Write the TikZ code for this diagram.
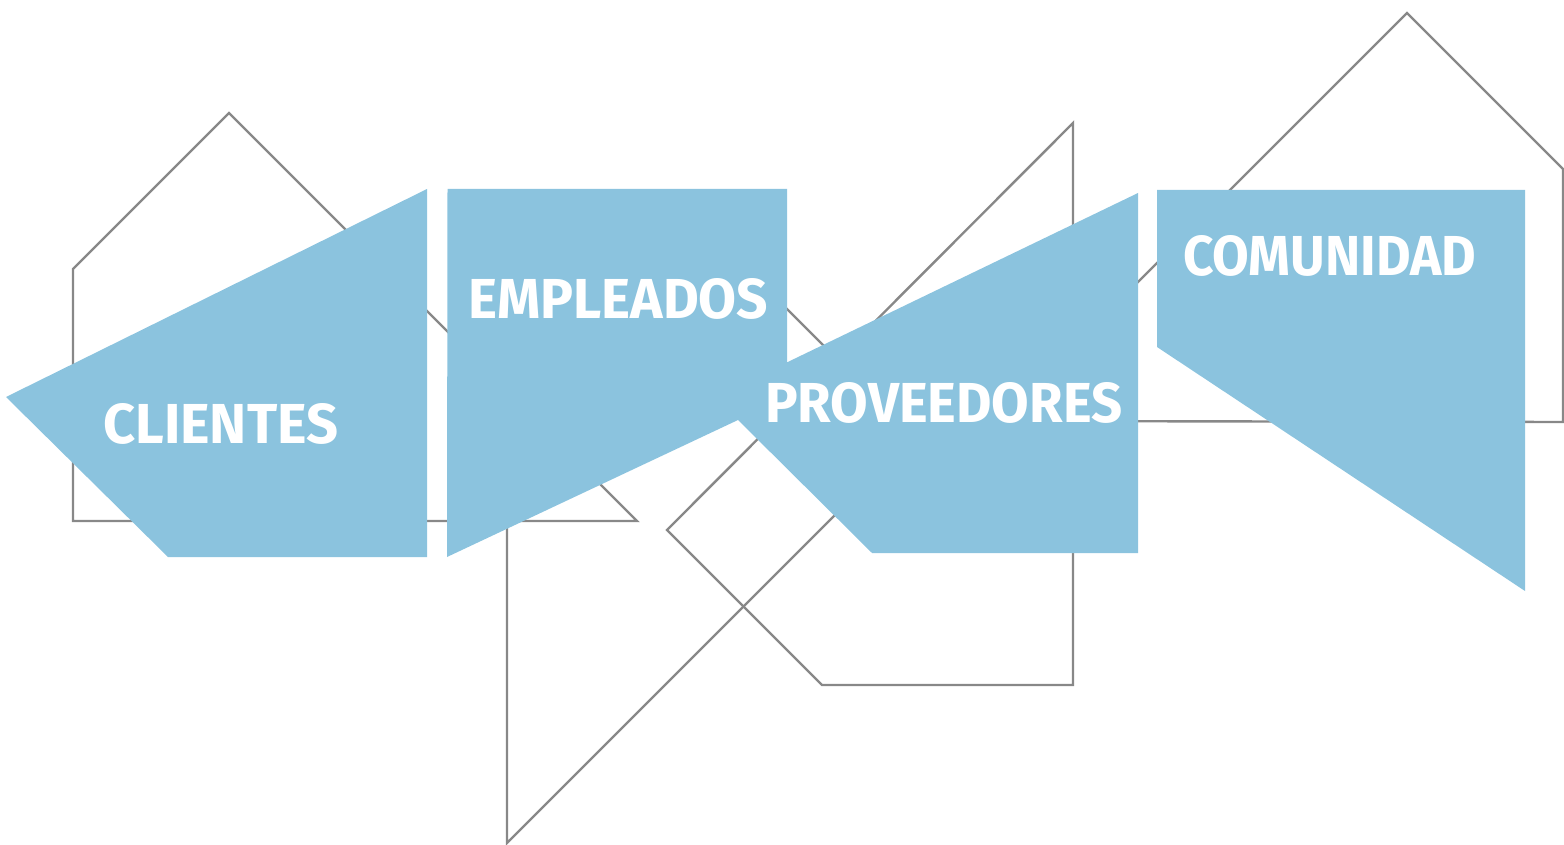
\documentclass[tikz,border=0pt]{standalone}
\usepackage{fontspec}
\setmainfont{Fira Sans}
\usepackage{graphicx}
\definecolor{skyblue}{RGB}{139,195,222}
\definecolor{linegray}{RGB}{136,136,136}
\begin{document}
\begin{tikzpicture}[x=1pt,y=-1pt,
  outline/.style={draw=linegray,line width=2.4pt,line join=miter},
  panel/.style={fill=skyblue,draw=none},
  label/.style={text=white,inner sep=0pt,anchor=base west,font=\bfseries}]
\useasboundingbox (0,0) rectangle (1564,845);
% gray house outlines
\draw[outline] (73,521) -- (73,269) -- (229,113) -- (637,521) -- cycle;
\draw[outline] (507,280) -- (758,280) -- (914,436) -- (507,843) -- cycle;
\draw[outline] (1073,123) -- (1073,685) -- (822,685) -- (667,530) -- cycle;
\draw[outline] (1563,422) -- (1563,169) -- (1407,13) -- (999,421) -- cycle;
% blue panels
\fill[panel] (6,397) -- (427,189) -- (427,557) -- (168,557) -- cycle;
\fill[panel] (447.5,189) -- (787,189) -- (787,400) -- (738,420) -- (447,557) -- cycle;
\fill[panel] (738,386) -- (1138,193) -- (1138,553) -- (872,553) -- (738,420) -- cycle;
\fill[panel] (1157,190) -- (1525,190) -- (1525,591) -- (1157,347) -- cycle;
% labels
\node[label] (clientes) at (103,443) {\resizebox{235pt}{40pt}{CLIENTES}};
\node[label] (empleados) at (468,318) {\resizebox{300pt}{40pt}{EMPLEADOS}};
\node[label] (proveedores) at (765,422) {\resizebox{357pt}{40pt}{PROVEEDORES}};
\node[label] (comunidad) at (1183,275) {\resizebox{293pt}{40pt}{COMUNIDAD}};
\end{tikzpicture}
\end{document}
